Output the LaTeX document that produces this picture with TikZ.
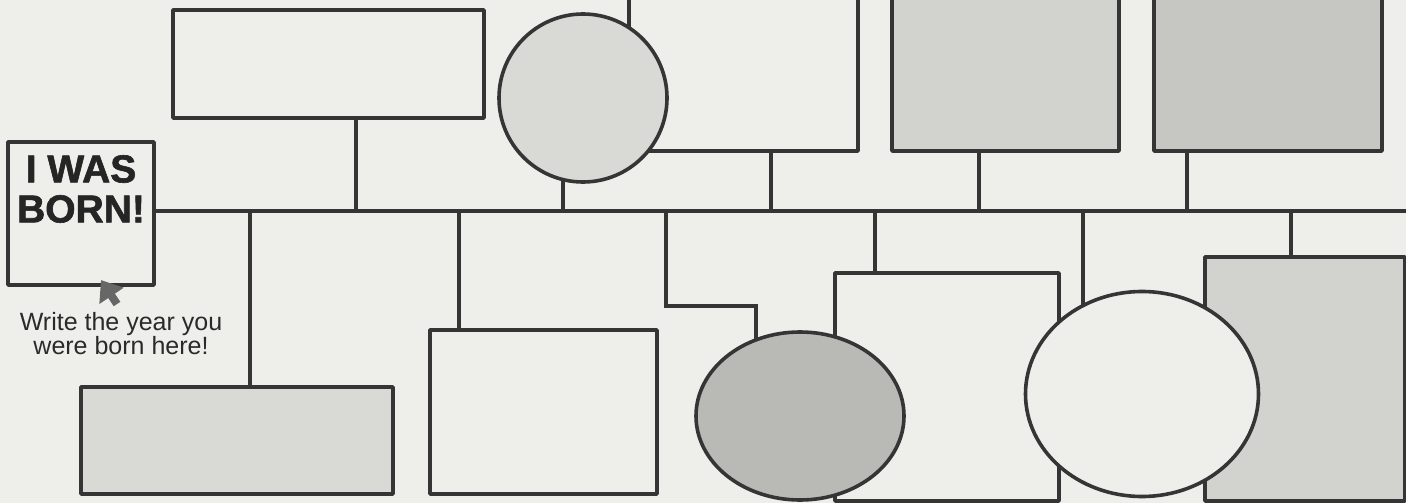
\documentclass[tikz,border=0pt]{standalone}
\usepackage{fontspec}
\setmainfont{Liberation Sans}
\newfontfamily\heavyfont{Liberation Sans Bold}[FakeBold=1.6]
\usetikzlibrary{calc,shapes.geometric,arrows.meta}
\pgfdeclarelayer{bg}
\pgfsetlayers{bg,main}
\definecolor{paper}{HTML}{EEEEEA}
\definecolor{ink}{HTML}{353535}
\definecolor{shadeA}{HTML}{D9D9D5}
\definecolor{shadeB}{HTML}{D2D2CE}
\definecolor{shadeC}{HTML}{C6C6C2}
\definecolor{shadeD}{HTML}{B9B9B5}

\begin{document}
\begin{tikzpicture}[x=1pt,y=-1pt,line join=round,line cap=round,
  box/.style={draw=ink,line width=3.6pt,fill=paper,inner sep=0pt,outer sep=0pt},
  oval/.style={box,ellipse},
  link/.style={draw=ink,line width=3.6pt}]
	\useasboundingbox (0,0) rectangle (1406,503);
	\clip (0,0) rectangle (1406,503);
	% Hàng trên
	\node[box,minimum width=311pt,minimum height=108pt] (up1) at (328.5,64) {};
	\node[box,minimum width=229pt,minimum height=181pt] (up3) at (743.5,60.5) {};
	\node[box,circle,fill=shadeA,minimum size=168pt] (up2) at (583,98) {};
	\node[box,fill=shadeB,minimum width=227pt,minimum height=181pt] (up4) at (1005.5,60.5) {};
	\node[box,fill=shadeC,minimum width=228pt,minimum height=181pt] (up5) at (1268,60.5) {};
	% Ô năm sinh
	\node[box,minimum width=146pt,minimum height=143pt] (born) at (81,213.5) {};
	\node[inner sep=0pt,anchor=north,align=center,text=ink!70!black,
	  font=\fontsize{39}{40}\selectfont\heavyfont] (bornTxt) at (81,155) {I WAS\\BORN!};
	\node[inner sep=0pt,anchor=north,align=center,text=ink!80!black,
	  font=\fontsize{25}{24}\selectfont] (hint) at (121,312) {Write the year you\\were born here!};
	\coordinate (tip) at (101,280);
	\coordinate (tail) at (117,304);
	\draw[draw=ink!75,line width=8pt,line cap=butt,-{Triangle[width=28pt,length=19pt]}] (tail) -- (tip);
	% Hàng dưới
	\node[box,fill=shadeA,minimum width=312pt,minimum height=107pt] (dn1) at (237,440.5) {};
	\node[box,minimum width=227pt,minimum height=164pt] (dn2) at (543.5,412) {};
	\node[box,minimum width=224pt,minimum height=228pt] (dn4) at (947,387) {};
	\node[box,fill=shadeB,minimum width=200pt,minimum height=244pt] (dn6) at (1305,379) {};
	\node[oval,fill=shadeD,minimum width=208pt,minimum height=168pt] (dn3) at (800,416) {};
	\node[oval,minimum width=233pt,minimum height=205pt] (dn5) at (1142,394) {};
	% Đường nối
	\coordinate (tR) at (1410,211);
	\coordinate (j1) at (356,211);
	\coordinate (j2) at (563,211);
	\coordinate (j3) at (771,211);
	\coordinate (j4) at (979,211);
	\coordinate (j5) at (1187,211);
	\coordinate (k1) at (250,211);
	\coordinate (k2) at (459,211);
	\coordinate (k3) at (666,211);
	\coordinate (k4) at (875,211);
	\coordinate (k5) at (1083,211);
	\coordinate (k6) at (1291,211);
	\coordinate (bnd) at (756,306);
	\begin{pgfonlayer}{bg}
		\fill[paper] (0,0) rectangle (1406,503);
		\draw[link] (born.east |- tR) -- (tR);
		\draw[link] (j1) -- (j1 |- up1.south);
		\draw[link] (j2) -- (j2 |- up2.center);
		\draw[link] (j3) -- (j3 |- up3.south);
		\draw[link] (j4) -- (j4 |- up4.south);
		\draw[link] (j5) -- (j5 |- up5.south);
		\draw[link] (k1) -- (k1 |- dn1.north);
		\draw[link] (k2) -- (k2 |- dn2.north);
		\draw[link] (k3) |- (bnd) -- (bnd |- dn3.center);
		\draw[link] (k4) -- (k4 |- dn4.north);
		\draw[link] (k5) -- (k5 |- dn5.center);
		\draw[link] (k6) -- (k6 |- dn6.north);
	\end{pgfonlayer}
\end{tikzpicture}
\end{document}
